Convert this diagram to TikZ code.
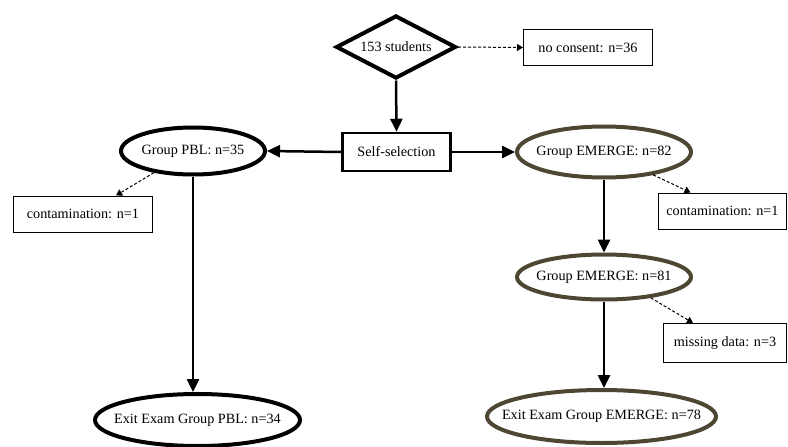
\documentclass[tikz,border=0pt]{standalone}
\usepackage{fontspec}
\setmainfont{Liberation Serif}
\usetikzlibrary{shapes.geometric,arrows.meta}
\definecolor{olive}{HTML}{4D4632}
\newcommand{\ctxt}[1]{\makebox[0pt][c]{#1}}
\tikzset{
  every node/.style={font=\fontsize{14.2}{16}\selectfont, inner sep=0pt},
  thinbox/.style={draw=black, line width=1pt, rectangle},
  selbox/.style={draw=black, line width=2.5pt, rectangle},
  pblell/.style={draw=black, line width=4pt, ellipse},
  emell/.style={draw=olive, line width=4pt, ellipse},
  solidarrow/.style={line width=2.5pt, -{Triangle[length=13pt,width=12pt]}},
  dasharrow/.style={line width=1pt, dash pattern=on 3pt off 2pt, -{Triangle[length=6pt,width=7pt]}},
}
\begin{document}
\begin{tikzpicture}[x=1pt,y=-1pt]
\useasboundingbox (0,0) rectangle (788,447);
\node[diamond, aspect=2.2, draw=black, line width=4pt, minimum width=120pt, minimum height=63pt] (stud) at (396,47) {153 students};
\node[thinbox, minimum width=129pt, minimum height=36pt] (nocon) at (588,47.5) {no consent: n=36};
\node[selbox, minimum width=108pt, minimum height=38pt] (sel) at (396.5,152) {Self-selection};
\node[pblell, minimum width=144pt, minimum height=47pt] (pbl) at (193,151) {\ctxt{Group PBL: n=35}};
\node[emell, minimum width=174pt, minimum height=51pt] (em1) at (604,152) {\ctxt{Group EMERGE: n=82}};
\node[thinbox, minimum width=139pt, minimum height=36pt] (cont1) at (83,214) {contamination: n=1};
\node[thinbox, minimum width=128pt, minimum height=36pt] (cont2) at (722.5,211) {contamination: n=1};
\node[emell, minimum width=174pt, minimum height=45pt] (em2) at (604,277) {\ctxt{Group EMERGE: n=81}};
\node[thinbox, minimum width=123pt, minimum height=39pt] (miss) at (725,343) {missing data: n=3};
\node[pblell, minimum width=205pt, minimum height=52pt] (exitp) at (197.5,420) {\ctxt{Exit Exam Group PBL: n=34}};
\node[emell, minimum width=229pt, minimum height=53pt] (exite) at (601.5,416.5) {\ctxt{Exit Exam Group EMERGE: n=78}};

\draw[dasharrow] (stud.east) -- (nocon.west);
\draw[solidarrow] (stud.south) -- (sel.north);
\draw[solidarrow] (sel.west) -- (pbl.east);
\draw[solidarrow] (sel.east) -- (em1.west);
\draw[dasharrow] (pbl.209) -- ([xshift=33pt]cont1.north);
\draw[solidarrow] (pbl.south) -- (pbl.south |- exitp.north);
\draw[dasharrow] (em1.335) -- ([xshift=-32pt]cont2.north);
\draw[solidarrow] (em1.south) -- (em2.north);
\draw[dasharrow] (em2.336) -- ([xshift=-32pt]miss.north);
\draw[solidarrow] (em2.south) -- (em2.south |- exite.north);
\end{tikzpicture}
\end{document}
